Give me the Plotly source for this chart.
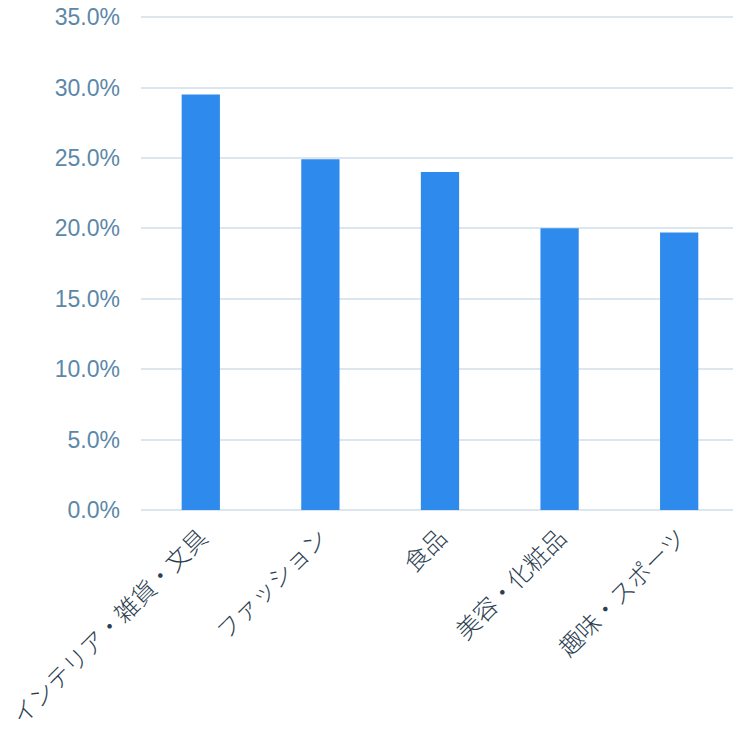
import plotly.graph_objects as go

categories = ["インテリア・雑貨・文具", "ファッション", "食品", "美容・化粧品", "趣味・スポーツ"]
shares = [29.5, 24.9, 24.0, 20.0, 19.7]
y_ticks = [0, 5, 10, 15, 20, 25, 30, 35]

fig = go.Figure(
    go.Bar(
        x=categories,
        y=shares,
        marker=dict(color="#2f8aee", line=dict(width=0)),
        hovertemplate="%{x}: %{y:.1f}%<extra></extra>",
    )
)

fig.update_layout(
    width=733,
    height=731,
    margin=dict(l=141, r=0, t=16, b=221, autoexpand=False),
    paper_bgcolor="white",
    plot_bgcolor="white",
    bargap=0.68,
    showlegend=False,
)

fig.update_xaxes(
    range=[-0.5, 4.45],
    automargin=False,
    tickangle=-45,
    tickfont=dict(family="Noto Sans CJK JP", size=24, color="#2c3e50", weight=300),
    ticklabelstandoff=8,
    showgrid=False,
    showline=False,
    zeroline=False,
)

fig.update_yaxes(
    range=[0, 35.08],
    automargin=False,
    tickvals=y_ticks,
    ticktext=[f"{v:.1f}%" for v in y_ticks],
    tickfont=dict(family="Liberation Sans, Arial", size=23, color="#5b87a8"),
    ticklabelstandoff=20,
    showgrid=True,
    gridcolor="#dce6ef",
    gridwidth=2,
    zeroline=True,
    zerolinecolor="#dce6ef",
    zerolinewidth=2,
    showline=False,
)

fig.write_html("out.html")
